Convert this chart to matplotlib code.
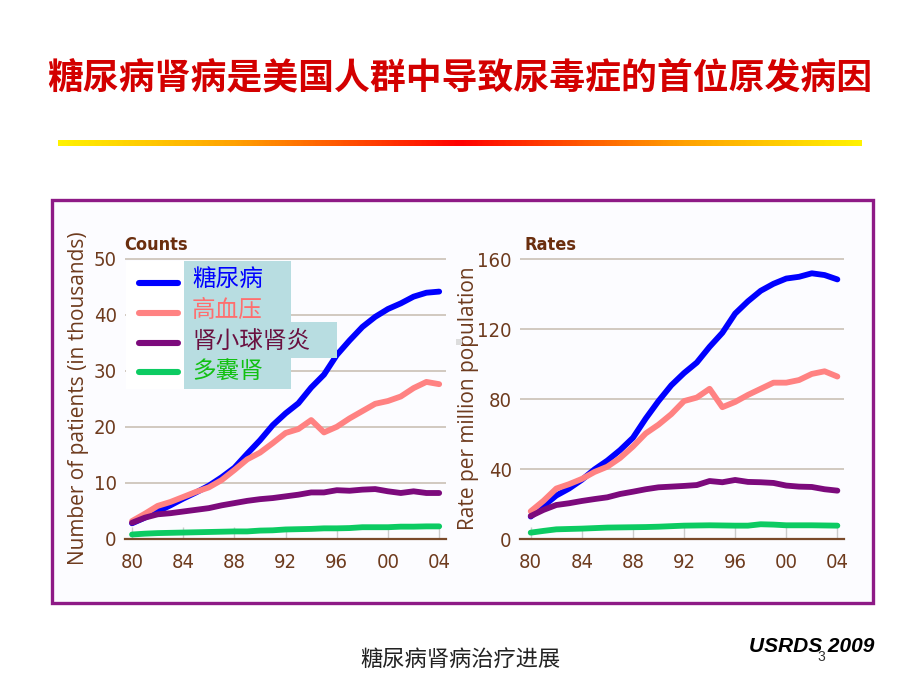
import matplotlib
matplotlib.use('Agg')
import matplotlib.pyplot as plt
import numpy as np
from matplotlib.patches import Rectangle, Polygon
from matplotlib.lines import Line2D
from matplotlib.colors import LinearSegmentedColormap
from matplotlib import font_manager as fm

plt.rcParams['font.family'] = ['Noto Sans CJK SC', 'DejaVu Sans']

# ---------------- data ----------------
years = list(range(1980, 2005))
xtick_years = [1980, 1984, 1988, 1992, 1996, 2000, 2004]
xtick_labels = ['80', '84', '88', '92', '96', '00', '04']

series_names = ['糖尿病', '高血压', '肾小球肾炎', '多囊肾']

counts_diabetes = [2.8, 3.8, 4.9, 6.0, 7.2, 8.3, 9.5, 11.0, 12.7, 15.2, 17.6, 20.3, 22.4,
                   24.2, 27.0, 29.3, 32.8, 35.4, 37.8, 39.6, 41.0, 42.0, 43.2, 43.9, 44.1]
counts_hypertension = [3.2, 4.5, 5.9, 6.6, 7.5, 8.4, 9.2, 10.5, 12.3, 14.2, 15.4, 17.1, 18.9,
                       19.6, 21.2, 19.0, 20.0, 21.5, 22.8, 24.1, 24.6, 25.4, 26.9, 28.0, 27.6]
counts_gn = [2.9, 3.8, 4.4, 4.6, 4.9, 5.2, 5.5, 6.0, 6.4, 6.8, 7.1, 7.3, 7.6,
             7.9, 8.3, 8.3, 8.7, 8.6, 8.8, 8.9, 8.5, 8.2, 8.5, 8.2, 8.2]
counts_cystic = [0.8, 0.95, 1.05, 1.1, 1.15, 1.2, 1.25, 1.3, 1.35, 1.35, 1.5, 1.55, 1.7,
                 1.75, 1.8, 1.9, 1.9, 1.95, 2.1, 2.1, 2.1, 2.2, 2.2, 2.25, 2.25]

rates_diabetes = [13, 19, 25, 29, 34, 40, 45, 51, 58, 69, 79, 88, 95,
                  101, 110, 118, 129, 136, 142, 146, 149, 150, 152, 151, 148.5]
rates_hypertension = [16, 22, 29, 31.5, 34.5, 38.5, 41.5, 46.5, 53, 60.5, 65.5, 71.5, 79,
                      81, 86, 75.5, 78.5, 82.5, 86, 89.5, 89.5, 91, 94.5, 96, 93]
rates_gn = [13.3, 16.8, 19.6, 20.6, 21.9, 23.0, 24.0, 25.9, 27.2, 28.6, 29.7, 30.1, 30.5,
            31.0, 33.3, 32.6, 33.9, 32.8, 32.6, 32.2, 30.7, 30.1, 29.9, 28.6, 27.8]
rates_cystic = [3.8, 4.8, 5.7, 5.9, 6.1, 6.4, 6.7, 6.8, 6.9, 7.0, 7.2, 7.5, 7.8,
                7.9, 8.0, 7.9, 7.8, 7.8, 8.6, 8.4, 8.0, 8.0, 8.0, 7.9, 7.8]

counts_yticks = [0, 10, 20, 30, 40, 50]
rates_yticks = [0, 40, 80, 120, 160]

title_text = '糖尿病肾病是美国人群中导致尿毒症的首位原发病因'
footer_text = '糖尿病肾病治疗进展'
source_text = 'USRDS 2009'

# ---------------- style ----------------
line_colors = ['#0000FF', '#FF8282', '#7C0A7C', '#0CCB62']
legend_text_colors = ['#0000FF', '#FF6E6E', '#6A1040', '#12C012']
brown = '#6E3B1E'
grid_c = '#CEC5BB'
W, H = 920, 690

tick_font = fm.FontProperties(family='DejaVu Sans', stretch='condensed', size=14.5)
head_font = fm.FontProperties(family='DejaVu Sans', stretch='condensed', weight='bold',
                              size=13)


def fx(px):
    return px / W


def fy(py):
    return 1 - py / H


fig = plt.figure(figsize=(9.2, 6.9), dpi=100)
fig.patch.set_facecolor('white')

# title
fig.text(fx(460), fy(78), title_text, ha='center', va='center', fontsize=25.8,
         fontweight='bold', color='#D30000')

# gradient bar
gax = fig.add_axes([fx(58), fy(146), fx(862) - fx(58), fy(140) - fy(146)])
cmap = LinearSegmentedColormap.from_list('g', [(0, '#FFF200'), (0.22, '#FFA000'),
                                               (0.5, '#FF0000'), (0.78, '#FFA000'),
                                               (1, '#FFF200')])
gax.imshow(np.linspace(0, 1, 400)[None, :], aspect='auto', cmap=cmap)
gax.set_axis_off()

# frame
fig.add_artist(Rectangle((fx(52), fy(603)), fx(873) - fx(52), fy(200) - fy(603),
                         transform=fig.transFigure, facecolor='#FCFCFF',
                         edgecolor='#8E1A86', lw=2.4, zorder=-1))


def make_axes(rect_px, xlim, ylim, yticks, series, ylabel, ylabel_x, title, title_x):
    l, r, t, b = rect_px
    ax = fig.add_axes([fx(l), fy(b), fx(r) - fx(l), fy(t) - fy(b)])
    ax.set_facecolor('none')
    for i in range(4):
        ax.plot(years, series[i], color=line_colors[i], lw=4.2,
                solid_capstyle='round', solid_joinstyle='round', zorder=3 + i,
                clip_on=False)
    ax.set_xlim(*xlim)
    ax.set_ylim(*ylim)
    ax.set_yticks(yticks)
    ax.set_yticklabels([str(v) for v in yticks], fontproperties=tick_font, color=brown)
    ax.set_xticks(xtick_years)
    ax.set_xticklabels(xtick_labels, fontproperties=tick_font, color=brown)
    for s in ['top', 'right', 'left']:
        ax.spines[s].set_visible(False)
    ax.spines['bottom'].set_color('#7A4A2A')
    ax.spines['bottom'].set_linewidth(1.6)
    ax.spines['bottom'].set_zorder(2.5)
    ax.yaxis.grid(True, color=grid_c, lw=1.3)
    ax.set_axisbelow(True)
    ax.tick_params(axis='y', length=0, pad=6)
    ax.tick_params(axis='x', direction='in', length=9, width=1, color='#CCCCCC', pad=10)
    fig.text(fx(ylabel_x), fy(398), ylabel, rotation=90, ha='center', va='center',
             fontsize=15, color=brown, family='Open Sans')
    fig.text(fx(title_x), fy(245), title, ha='left', va='center',
             fontproperties=head_font, color='#6A2E0E')
    return ax


ax1 = make_axes((125, 445.7, 250, 539),
                (1979.45, 2004.51), (0, (539 - 250) / 5.61), counts_yticks,
                [counts_diabetes, counts_hypertension, counts_gn, counts_cystic],
                'Number of patients (in thousands)', 79, 'Counts', 124)
ax2 = make_axes((520, 844, 250, 539.3),
                (1979.16, 2004.52), (0, (539.3 - 250) / 1.75), rates_yticks,
                [rates_diabetes, rates_hypertension, rates_gn, rates_cystic],
                'Rate per million population', 469, 'Rates', 525)

# legend: white backing, colored lines, light-blue text box
fig.add_artist(Rectangle((fx(126), fy(389)), fx(184) - fx(126), fy(261) - fy(389),
                         transform=fig.transFigure, facecolor='white',
                         edgecolor='none', zorder=5))
poly_px = [(184, 261), (291, 261), (291, 322), (337, 322), (337, 358),
           (291, 358), (291, 389), (184, 389)]
fig.add_artist(Polygon([(fx(a), fy(b)) for a, b in poly_px], closed=True,
                       transform=fig.transFigure, facecolor='#B8DDE1',
                       edgecolor='none', zorder=5))
row_y = [283, 313, 343, 372]
text_y = [279, 310, 341, 371]
for i, name in enumerate(series_names):
    fig.add_artist(Line2D([fx(139), fx(178)], [fy(row_y[i]), fy(row_y[i])],
                          transform=fig.transFigure, color=line_colors[i], lw=4.4,
                          solid_capstyle='round', zorder=6))
    fig.text(fx(192), fy(text_y[i]), name, ha='left', va='center', fontsize=17,
             color=legend_text_colors[i], zorder=7)

# small gray mark
fig.add_artist(Rectangle((fx(456), fy(345)), fx(6), 6 / H, transform=fig.transFigure,
                         facecolor='#DDDDDD', edgecolor='none', zorder=5))

# footer
fig.text(fx(460), fy(659), footer_text, ha='center', va='center', fontsize=16,
         color='#222222')
fig.text(fx(874), fy(647), source_text, ha='right', va='center', fontsize=15,
         fontweight='bold', fontstyle='italic', color='black', family='Liberation Sans')
fig.text(fx(821), fy(657), '3', ha='center', va='center', fontsize=10,
         color='#333333', family='Liberation Sans')

fig.savefig('out.png', dpi=100, facecolor='white')
